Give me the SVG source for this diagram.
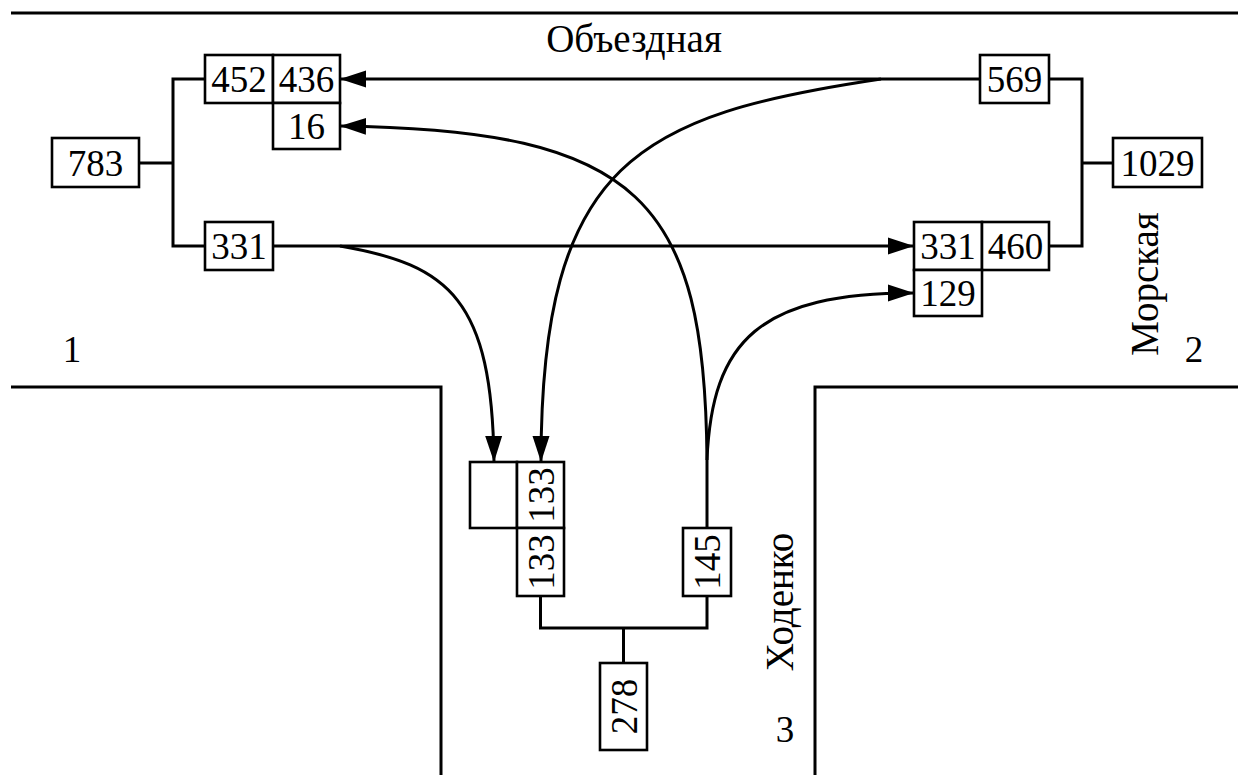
<svg xmlns="http://www.w3.org/2000/svg" width="1238" height="775" viewBox="0 0 1238 775">
<style>
.b{fill:#fff;stroke:#000;stroke-width:2.6}
text{font-family:'Liberation Serif','Times New Roman','DejaVu Serif',serif;font-size:37px;fill:#000;text-anchor:middle}
.l{fill:none;stroke:#000;stroke-width:3}
.a{fill:none;stroke:#000;stroke-width:3;marker-end:url(#ah)}
</style>
<defs>
<marker id="ah" markerUnits="userSpaceOnUse" markerWidth="26" markerHeight="18" refX="26" refY="9" orient="auto">
<path d="M0,0.5 L26,9 L0,17.5 z" fill="#000"/>
</marker>
</defs>
<rect width="1238" height="775" fill="#fff"/>
<g id="roads">
<path class="l" d="M11,13 H1238"/>
<path class="l" d="M11,387 H441 V775"/>
<path class="l" d="M815,775 V387 H1238"/>
</g>
<g id="labels">
<text x="634" y="52" style="font-size:39px">Объездная</text>
<text x="72" y="362">1</text>
<text x="1194" y="362">2</text>
<text x="785" y="742">3</text>
<text transform="translate(1158,284) rotate(-90)" style="font-size:39px">Морская</text>
<text transform="translate(793,602) rotate(-90)" style="font-size:39px">Ходенко</text>
</g>
<g id="connectors">
<path class="l" d="M139,163 H173 M205,79 H173 V246 H205"/>
<path class="l" d="M1049,79 H1082 V246 H1049 M1082,163 H1113"/>
<path class="l" d="M540.5,596 V628 H707 V596 M623.5,628 V663"/>
<path class="a" d="M980,79 H340"/>
<path class="a" d="M273,246 H914"/>
<path class="a" d="M881,79 C640,115 541,160 541,462"/>
<path class="a" d="M340,246 C450,265 492,300 494,462"/>
<path class="a" d="M707,528 V460 C705,200 640,130 340,126"/>
<path class="a" d="M707,460 C712,340 760,293 914,293"/>
</g>
<g id="n783"><rect class="b" x="52" y="138" width="87" height="49"/><text x="95.5" y="176">783</text></g>
<g id="n452"><rect class="b" x="205" y="55" width="68" height="48"/><text x="239" y="92">452</text></g>
<g id="n436"><rect class="b" x="273" y="55" width="67" height="48"/><text x="306.5" y="92">436</text></g>
<g id="n16"><rect class="b" x="273" y="103" width="67" height="46"/><text x="306.5" y="139">16</text></g>
<g id="n331a"><rect class="b" x="205" y="222" width="68" height="48"/><text x="239" y="259">331</text></g>
<g id="n569"><rect class="b" x="980" y="55" width="69" height="48"/><text x="1014.5" y="92">569</text></g>
<g id="n1029"><rect class="b" x="1113" y="138" width="89" height="49"/><text x="1157.5" y="176">1029</text></g>
<g id="n331b"><rect class="b" x="914" y="222" width="68" height="48"/><text x="948" y="259">331</text></g>
<g id="n460"><rect class="b" x="982" y="222" width="67" height="48"/><text x="1015.5" y="259">460</text></g>
<g id="n129"><rect class="b" x="914" y="270" width="68" height="46"/><text x="948" y="306">129</text></g>
<g id="nEmpty"><rect class="b" x="470" y="462" width="47" height="66"/></g>
<g id="n133a"><rect class="b" x="517" y="462" width="47" height="66"/><text transform="translate(553.5,495) rotate(-90)">133</text></g>
<g id="n133b"><rect class="b" x="517" y="528" width="47" height="68"/><text transform="translate(553.5,562) rotate(-90)">133</text></g>
<g id="n145"><rect class="b" x="683" y="528" width="48" height="68"/><text transform="translate(720,562) rotate(-90)">145</text></g>
<g id="n278"><rect class="b" x="600" y="663" width="47" height="87"/><text transform="translate(636.5,706.5) rotate(-90)">278</text></g>
</svg>
